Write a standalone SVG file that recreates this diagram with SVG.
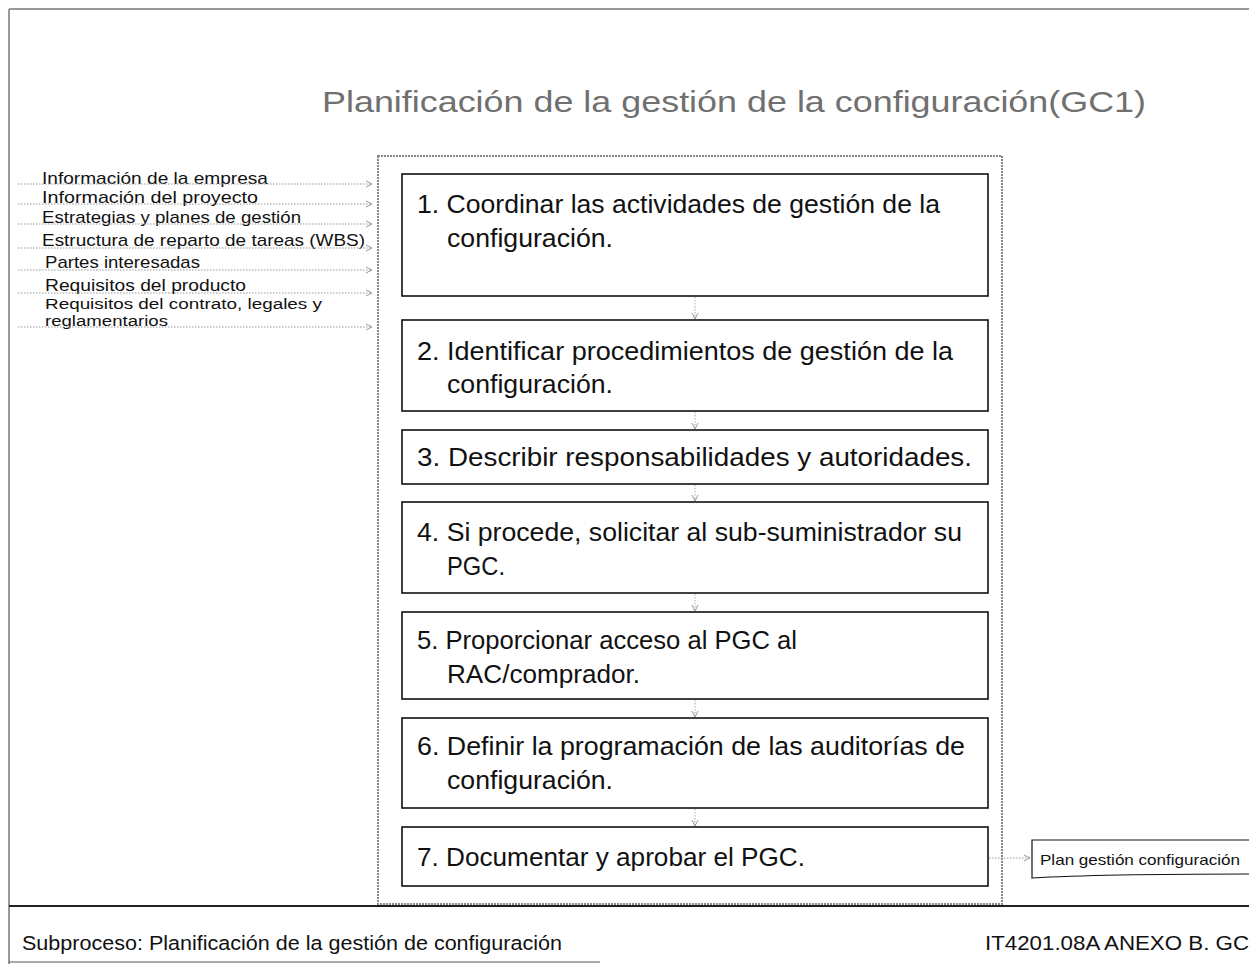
<svg xmlns="http://www.w3.org/2000/svg" width="1249" height="964" viewBox="0 0 1249 964">
<style>
text{font-family:"Liberation Sans",Arial,sans-serif;fill:#111}
.box{fill:#fff;stroke:#111;stroke-width:1.6}
.bt{font-size:26px}
.in{font-size:17px}
.dl{stroke:#999;stroke-width:1;stroke-dasharray:1.5 1.5;fill:none}
.va{stroke:#aaa;stroke-width:1;stroke-dasharray:1.5 1.5;fill:none}
</style>
<defs>
<marker id="ah" markerWidth="8" markerHeight="8" refX="7" refY="4" orient="auto" markerUnits="userSpaceOnUse">
<path d="M1,1 L7,4 L1,7" fill="none" stroke="#999" stroke-width="1"/>
</marker>
</defs>
<rect width="1249" height="964" fill="#fff"/>
<g id="frame">
<line x1="9" y1="9" x2="1249" y2="9" stroke="#999" stroke-width="2"/>
<line x1="9" y1="9" x2="9" y2="964" stroke="#999" stroke-width="2"/>
<line x1="9" y1="906" x2="1249" y2="906" stroke="#222" stroke-width="2"/>
<line x1="9" y1="962" x2="600" y2="962" stroke="#555" stroke-width="1"/>
</g>
<text id="title" x="322" y="112" font-size="30" style="fill:#707070" textLength="824" lengthAdjust="spacingAndGlyphs">Planificación de la gestión de la configuración(GC1)</text>
<g id="container">
<rect x="378" y="156" width="624" height="748" fill="none" stroke="#888" stroke-width="2" stroke-dasharray="2 1"/>
</g>
<g id="inputs">
<text class="in" x="42" y="184" textLength="226" lengthAdjust="spacingAndGlyphs">Información de la empresa</text>
<text class="in" x="42" y="203" textLength="216" lengthAdjust="spacingAndGlyphs">Información del proyecto</text>
<text class="in" x="42" y="223" textLength="259" lengthAdjust="spacingAndGlyphs">Estrategias y planes de gestión</text>
<text class="in" x="42" y="246" textLength="323" lengthAdjust="spacingAndGlyphs">Estructura de reparto de tareas (WBS)</text>
<text class="in" x="45" y="268" textLength="155" lengthAdjust="spacingAndGlyphs">Partes interesadas</text>
<text class="in" x="45" y="291" textLength="201" lengthAdjust="spacingAndGlyphs">Requisitos del producto</text>
<text class="in" x="45" y="309" style="font-size:15.5px" textLength="277" lengthAdjust="spacingAndGlyphs">Requisitos del contrato, legales y</text>
<text class="in" x="45" y="326" style="font-size:15.5px" textLength="123" lengthAdjust="spacingAndGlyphs">reglamentarios</text>
</g>
<g id="connectors">
<line class="dl" x1="18" y1="184" x2="372" y2="184" marker-end="url(#ah)"/>
<line class="dl" x1="18" y1="204" x2="372" y2="204" marker-end="url(#ah)"/>
<line class="dl" x1="18" y1="224" x2="372" y2="224" marker-end="url(#ah)"/>
<line class="dl" x1="18" y1="248" x2="372" y2="248" marker-end="url(#ah)"/>
<line class="dl" x1="18" y1="270" x2="372" y2="270" marker-end="url(#ah)"/>
<line class="dl" x1="18" y1="293" x2="372" y2="293" marker-end="url(#ah)"/>
<line class="dl" x1="18" y1="327" x2="372" y2="327" marker-end="url(#ah)"/>
<line class="va" x1="695" y1="297" x2="695" y2="319" marker-end="url(#ah)"/>
<line class="va" x1="695" y1="412" x2="695" y2="429" marker-end="url(#ah)"/>
<line class="va" x1="695" y1="485" x2="695" y2="501" marker-end="url(#ah)"/>
<line class="va" x1="695" y1="594" x2="695" y2="611" marker-end="url(#ah)"/>
<line class="va" x1="695" y1="700" x2="695" y2="717" marker-end="url(#ah)"/>
<line class="va" x1="695" y1="809" x2="695" y2="826" marker-end="url(#ah)"/>
<line class="dl" x1="989" y1="858" x2="1030" y2="858" marker-end="url(#ah)"/>
</g>
<g id="step1">
<rect class="box" x="402" y="174" width="586" height="122"/>
<text class="bt" x="417" y="213" textLength="523" lengthAdjust="spacingAndGlyphs">1. Coordinar las actividades de gestión de la</text>
<text class="bt" x="447" y="247" textLength="166" lengthAdjust="spacingAndGlyphs">configuración.</text>
</g>
<g id="step2">
<rect class="box" x="402" y="320" width="586" height="91"/>
<text class="bt" x="417" y="360" textLength="536" lengthAdjust="spacingAndGlyphs">2. Identificar procedimientos de gestión de la</text>
<text class="bt" x="447" y="393" textLength="166" lengthAdjust="spacingAndGlyphs">configuración.</text>
</g>
<g id="step3">
<rect class="box" x="402" y="430" width="586" height="54"/>
<text class="bt" x="417" y="466" textLength="555" lengthAdjust="spacingAndGlyphs">3. Describir responsabilidades y autoridades.</text>
</g>
<g id="step4">
<rect class="box" x="402" y="502" width="586" height="91"/>
<text class="bt" x="417" y="541" textLength="545" lengthAdjust="spacingAndGlyphs">4. Si procede, solicitar al sub-suministrador su</text>
<text class="bt" x="447" y="575" textLength="58" lengthAdjust="spacingAndGlyphs">PGC.</text>
</g>
<g id="step5">
<rect class="box" x="402" y="612" width="586" height="87"/>
<text class="bt" x="417" y="649" textLength="380" lengthAdjust="spacingAndGlyphs">5. Proporcionar acceso al PGC al</text>
<text class="bt" x="447" y="683" textLength="193" lengthAdjust="spacingAndGlyphs">RAC/comprador.</text>
</g>
<g id="step6">
<rect class="box" x="402" y="718" width="586" height="90"/>
<text class="bt" x="417" y="755" textLength="548" lengthAdjust="spacingAndGlyphs">6. Definir la programación de las auditorías de</text>
<text class="bt" x="447" y="789" textLength="166" lengthAdjust="spacingAndGlyphs">configuración.</text>
</g>
<g id="step7">
<rect class="box" x="402" y="827" width="586" height="59"/>
<text class="bt" x="417" y="866" textLength="388" lengthAdjust="spacingAndGlyphs">7. Documentar y aprobar el PGC.</text>
</g>
<g id="output">
<path d="M1032,840 L1252,840 L1252,874 C1200,874 1100,874 1032,878 Z" fill="#fff" stroke="#111" stroke-width="1.2"/>
<text x="1040" y="865" font-size="15" textLength="200" lengthAdjust="spacingAndGlyphs">Plan gestión configuración</text>
</g>
<g id="footer">
<text x="22" y="950" font-size="20.5" textLength="540" lengthAdjust="spacingAndGlyphs">Subproceso: Planificación de la gestión de configuración</text>
<text x="985" y="950" font-size="20.5" textLength="264" lengthAdjust="spacingAndGlyphs">IT4201.08A ANEXO B. GC</text>
</g>
</svg>
